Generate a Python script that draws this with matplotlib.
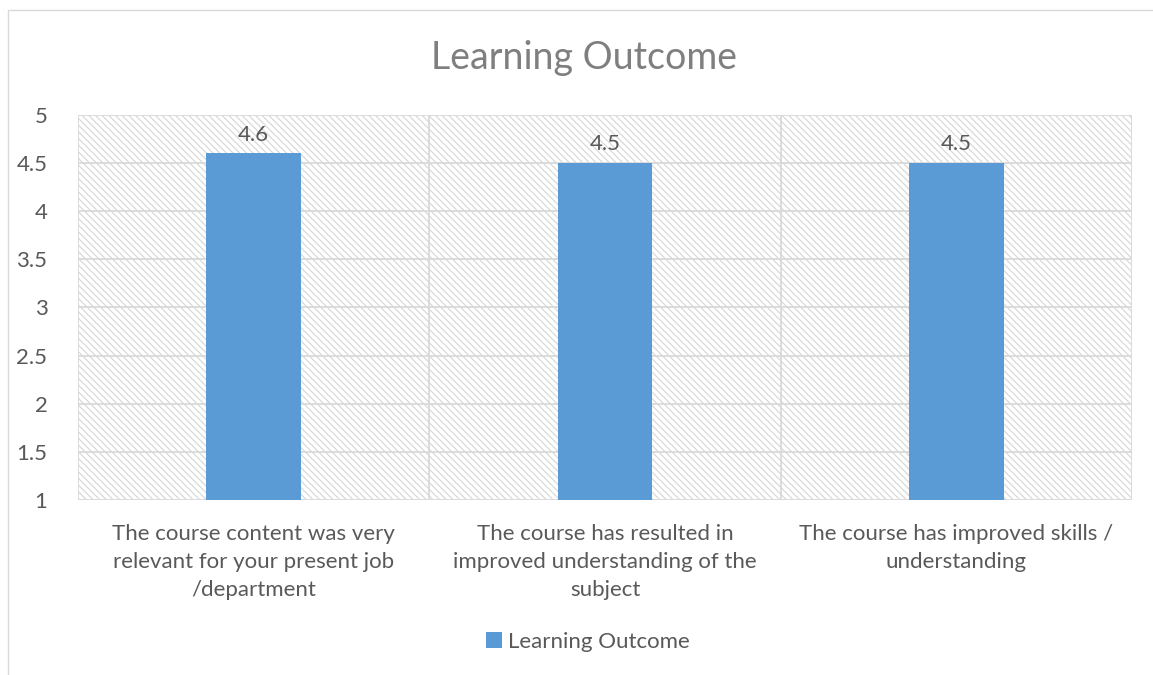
import matplotlib
matplotlib.use("Agg")
import matplotlib.pyplot as plt
from matplotlib.patches import Rectangle
import numpy as np

categories = [
    "The course content was very\nrelevant for your present job\n/department",
    "The course has resulted in\nimproved understanding of the\nsubject",
    "The course has improved skills /\nunderstanding",
]
values = [4.6, 4.5, 4.5]
series_name = "Learning Outcome"
yticks = [1, 1.5, 2, 2.5, 3, 3.5, 4, 4.5, 5]

plt.rcParams['font.family'] = ['Lato', 'DejaVu Sans']
plt.rcParams['hatch.linewidth'] = 0.9
plt.rcParams['hatch.color'] = '#d9d9d9'
txt = '#595959'
fs = 16

fig = plt.figure(figsize=(11.53, 6.75), dpi=100)
# outer chart border
fig.patches.append(Rectangle((8/1153, -0.1), 1.2, (675-10)/675 + 0.1, transform=fig.transFigure,
                             fill=False, edgecolor='#d9d9d9', linewidth=1.0))

ax = fig.add_axes([78/1153, 1-500/675, (1132-78)/1153, (500-115)/675])
n = len(categories)
x = np.arange(n)
ax.set_xlim(-0.5, n-0.5)
ax.set_ylim(1, 5)

ax.add_patch(Rectangle((0, 0), 1, 1, transform=ax.transAxes, facecolor='white',
                       edgecolor='#d9d9d9', hatch='\\' * 5, linewidth=0, zorder=0))

for yv in yticks:
    ax.axhline(yv, color='#d9d9d9', linewidth=1.3, zorder=1)
for b in np.arange(-0.5, n, 1.0):
    ax.axvline(b, color='#d9d9d9', linewidth=1.3, zorder=1)

bars = ax.bar(x, [v-1 for v in values], bottom=1, width=0.27, color='#5b9bd5',
              zorder=3, label=series_name)
for xi, v in zip(x, values):
    ax.text(xi, v + 0.09, f"{v:g}", ha='center', va='bottom', fontsize=fs, color=txt)

for s in ax.spines.values():
    s.set_visible(False)
ax.set_yticks(yticks)
ax.set_yticklabels([f"{t:g}" for t in yticks], fontsize=fs, color=txt)
ax.set_xticks(x)
ax.set_xticklabels(categories, fontsize=fs, color=txt, linespacing=1.5)
ax.tick_params(axis='both', length=0)
ax.tick_params(axis='y', pad=22)
ax.tick_params(axis='x', pad=17)

fig.text(584/1153, 1-58/675, "Learning Outcome", ha='center', va='center',
         fontsize=27, color='#7f7f7f')

leg = fig.legend(handles=[bars], labels=[series_name], loc='center',
                 bbox_to_anchor=(588/1153, 1-642/675), frameon=False,
                 fontsize=fs, handlelength=0.7, handleheight=0.7, handletextpad=0.3)
for t in leg.get_texts():
    t.set_color(txt)

fig.savefig("out.png", dpi=100)
